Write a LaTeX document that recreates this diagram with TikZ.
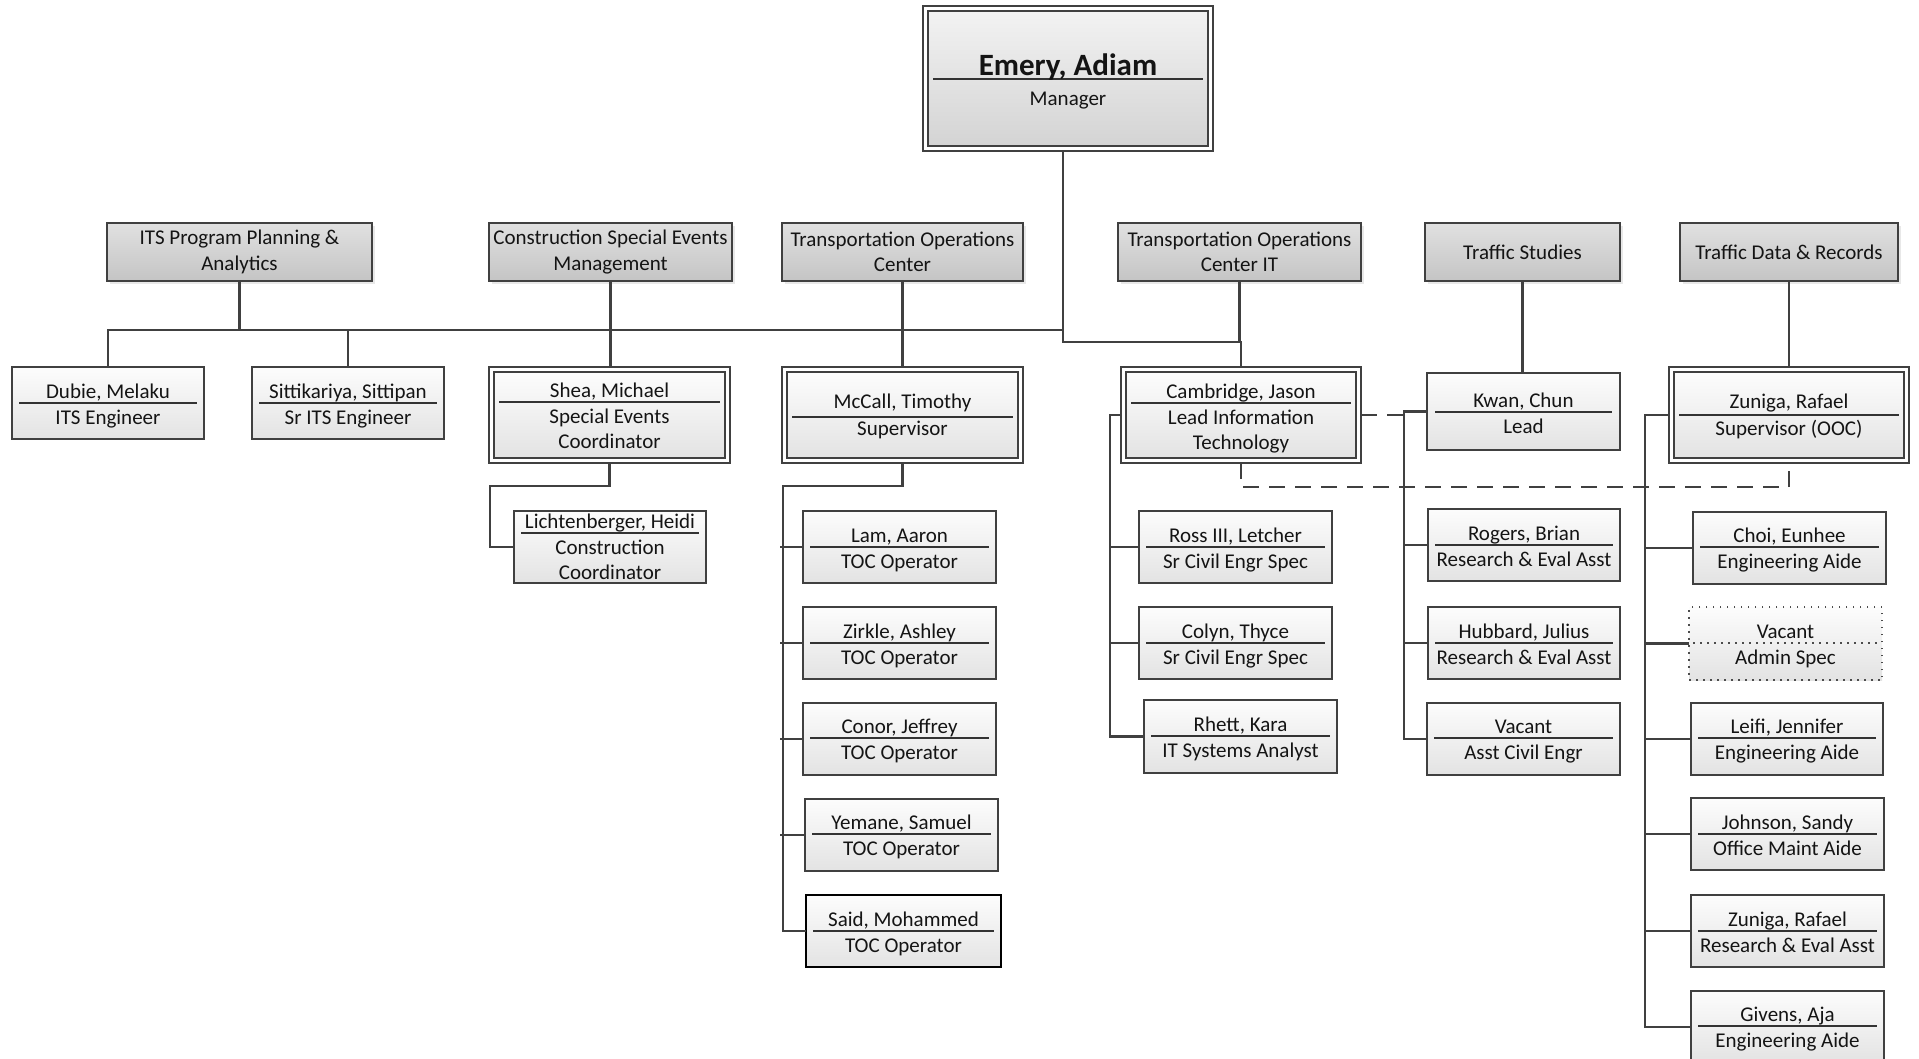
\documentclass[tikz,border=0pt]{standalone}
\usepackage{fontspec}
\setmainfont{Carlito}
\usetikzlibrary{calc,shadows}
\definecolor{ln}{HTML}{404040}
\tikzset{
  conn/.style={draw=ln, line width=2.4pt},
  dashl/.style={draw=ln, line width=2.4pt, dash pattern=on 16pt off 10pt},
  divl/.style={draw=black!80, line width=1.6pt},
  txt/.style={inner sep=0pt, anchor=base, text=black!92, font=\fontsize{21}{25.5}\selectfont},
  pbox/.style={draw=ln, line width=1.8pt, top color=black!1, bottom color=black!11, inner sep=0pt, outer sep=0pt},
  sbox/.style={pbox, draw=black, line width=2.3pt},
  vbox/.style={pbox, draw=black!70, line width=1.5pt, dash pattern=on 1.5pt off 5.5pt},
  hbox/.style={draw=ln, line width=1.8pt, top color=black!12, bottom color=black!23, inner sep=0pt, outer sep=0pt,
     align=center, text=black!92, font=\fontsize{21}{25.5}\selectfont,
     drop shadow={shadow xshift=3pt, shadow yshift=-3pt, opacity=0.18}},
  dboxo/.style={draw=ln, line width=1.6pt, fill=white, inner sep=0pt, outer sep=0pt},
  dboxi/.style={draw=ln, line width=1.6pt, top color=black!1, bottom color=black!11},
  eboxi/.style={draw=ln, line width=1.8pt, top color=black!5, bottom color=black!17},
}
\newcommand\nameoff{-5}
\newcommand\titoff{21}
\newcommand\bx[7]{\node[#1, minimum width=#5pt-#3pt, minimum height=#6pt-#4pt] (#2) at ({(#3+#5)/2},{(#4+#6)/2}) {#7};}
\newcommand\dinner[2]{\draw[#2] ($(#1.north west)+(5,5)$) rectangle ($(#1.south east)+(-5,-5)$);}
\newcommand\lab[6]{%
  \draw[divl] ($(#1.west |- 0,#3)+(#2,0)$) -- ($(#1.east |- 0,#3)+(-#2,0)$);
  \node[txt] (#1-n) at ($(#1.center |- 0,#3)+(0,\nameoff)$) {#4};
  \node[txt] (#1-a) at ($(#1.center |- 0,#3)+(0,\titoff)$) {#5};
  \if\relax\detokenize{#6}\relax\else
  \node[txt] (#1-b) at ($(#1.center |- 0,#3)+(0,\titoff+25.5)$) {#6};\fi}
\begin{document}
\begin{tikzpicture}[x=1pt,y=-1pt]
\useasboundingbox[fill=white] (0,0) rectangle (1919,1059);

% manager
\bx{dboxo}{emery}{923}{6}{1213}{151}{}
\dinner{emery}{eboxi}
\draw[divl] ($(emery.west |- 0,79)+(10,0)$) -- ($(emery.east |- 0,79)+(-10,0)$);
\node[txt, font=\bfseries\fontsize{31}{36}\selectfont] (emery-n) at (1068,76) {Emery, Adiam};
\node[txt] (emery-a) at (1068,106) {Manager};

% heads
\bx{hbox}{its}{107}{223}{372}{281}{ITS Program Planning \&\\Analytics}
\bx{hbox}{cse}{489}{223}{732}{281}{Construction Special Events\\Management}
\bx{hbox}{toc}{782}{223}{1023}{281}{Transportation Operations\\Center}
\bx{hbox}{tocit}{1118}{223}{1361}{281}{Transportation Operations\\Center IT}
\bx{hbox}{ts}{1425}{223}{1620}{281}{Traffic Studies}
\bx{hbox}{tdr}{1680}{223}{1898}{281}{Traffic Data \& Records}

% ITS
\bx{pbox}{dubie}{12}{367}{204}{439}{}
\lab{dubie}{7}{403}{Dubie, Melaku}{ITS Engineer}{}
\bx{pbox}{sitt}{252}{367}{444}{439}{}
\lab{sitt}{7}{403}{Sittikariya, Sittipan}{Sr ITS Engineer}{}

% CSE
\bx{dboxo}{shea}{489}{367}{730}{463}{}
\dinner{shea}{dboxi}
\lab{shea}{10}{402}{Shea, Michael}{Special Events}{Coordinator}
\bx{pbox}{licht}{514}{511}{706}{583}{}
\lab{licht}{7}{533}{Lichtenberger, Heidi}{Construction}{Coordinator}

% TOC
\bx{dboxo}{mccall}{782}{367}{1023}{463}{}
\dinner{mccall}{dboxi}
\renewcommand\nameoff{-9}\renewcommand\titoff{18}
\lab{mccall}{10}{417}{McCall, Timothy}{Supervisor}{}
\renewcommand\nameoff{-5}\renewcommand\titoff{21}
\bx{pbox}{lam}{803}{511}{996}{583}{}
\lab{lam}{7}{547}{Lam, Aaron}{TOC Operator}{}
\bx{pbox}{zirkle}{803}{607}{996}{679}{}
\lab{zirkle}{7}{643}{Zirkle, Ashley}{TOC Operator}{}
\bx{pbox}{conor}{803}{703}{996}{775}{}
\lab{conor}{7}{738}{Conor, Jeffrey}{TOC Operator}{}
\bx{pbox}{yemane}{805}{799}{998}{871}{}
\lab{yemane}{7}{834}{Yemane, Samuel}{TOC Operator}{}
\bx{sbox}{said}{806}{895}{1001}{967}{}
\lab{said}{7}{931}{Said, Mohammed}{TOC Operator}{}

% TOC IT
\bx{dboxo}{cam}{1121}{367}{1361}{463}{}
\dinner{cam}{dboxi}
\lab{cam}{10}{403}{Cambridge, Jason}{Lead Information}{Technology}
\bx{pbox}{ross}{1139}{511}{1332}{583}{}
\lab{ross}{7}{547}{Ross III, Letcher}{Sr Civil Engr Spec}{}
\bx{pbox}{colyn}{1139}{607}{1332}{679}{}
\lab{colyn}{7}{643}{Colyn, Thyce}{Sr Civil Engr Spec}{}
\bx{pbox}{rhett}{1144}{700}{1337}{773}{}
\lab{rhett}{7}{736}{Rhett, Kara}{IT Systems Analyst}{}

% Traffic Studies
\bx{pbox}{kwan}{1427}{373}{1620}{450}{}
\lab{kwan}{8}{412}{Kwan, Chun}{Lead}{}
\bx{pbox}{rogers}{1428}{509}{1620}{581}{}
\lab{rogers}{7}{545}{Rogers, Brian}{Research \& Eval Asst}{}
\bx{pbox}{hubbard}{1428}{607}{1620}{679}{}
\lab{hubbard}{7}{643}{Hubbard, Julius}{Research \& Eval Asst}{}
\bx{pbox}{vac1}{1427}{703}{1620}{775}{}
\lab{vac1}{7}{738}{Vacant}{Asst Civil Engr}{}

% Traffic Data
\bx{dboxo}{zuniga}{1669}{367}{1909}{463}{}
\dinner{zuniga}{dboxi}
\renewcommand\nameoff{-7}\renewcommand\titoff{20}
\lab{zuniga}{10}{415}{Zuniga, Rafael}{Supervisor (OOC)}{}
\renewcommand\nameoff{-5}\renewcommand\titoff{21}
\bx{pbox}{choi}{1693}{512}{1886}{584}{}
\lab{choi}{7}{547}{Choi, Eunhee}{Engineering Aide}{}
\bx{vbox}{vac2}{1689}{607}{1882}{680}{}
\draw[draw=black!70, line width=1.5pt, dash pattern=on 1.5pt off 5.5pt] ($(vac2.west |- 0,643)+(4,0)$) -- ($(vac2.east |- 0,643)+(-4,0)$);
\node[txt] (vac2-n) at (1785.5,638) {Vacant};
\node[txt] (vac2-a) at (1785.5,664) {Admin Spec};
\bx{pbox}{leifi}{1691}{703}{1883}{775}{}
\lab{leifi}{7}{738}{Leifi, Jennifer}{Engineering Aide}{}
\bx{pbox}{johnson}{1691}{798}{1884}{870}{}
\lab{johnson}{7}{834}{Johnson, Sandy}{Office Maint Aide}{}
\bx{pbox}{zunre}{1691}{895}{1884}{967}{}
\lab{zunre}{7}{931}{Zuniga, Rafael}{Research \& Eval Asst}{}
\bx{pbox}{givens}{1691}{991}{1884}{1063}{}
\lab{givens}{7}{1026}{Givens, Aja}{Engineering Aide}{}

% ---- connectors ----
\coordinate (busR) at (1063,330);
\coordinate (j1) at (1063,342);
\draw[conn] ([xshift=-5pt]emery.south) -- (j1) -| (cam.north);
\draw[conn] (tocit.south) -- (tocit.south |- j1);
\draw[conn] (dubie.north) |- (busR);
\draw[conn] (its.south) -- (its.south |- busR);
\draw[conn] (sitt.north) -- (sitt.north |- busR);
\draw[conn] (cse.south) -- (cse.south |- shea.north);
\draw[conn] (toc.south) -- (toc.south |- mccall.north);
\draw[conn] (ts.south) -- (ts.south |- kwan.north);
\draw[conn] (tdr.south) -- (tdr.south |- zuniga.north);

% CSE
\coordinate (sb) at (490,486);
\draw[conn] (shea.south) |- (sb) |- (licht.west);

% TOC
\coordinate (mb) at (783,486);
\draw[conn] (mccall.south) |- (mb) |- (said.west);
\foreach \n in {lam,zirkle,conor,yemane} \draw[conn] ([xshift=-3pt]\n.west -| mb) -- (\n.west);

% TOC IT
\coordinate (cb) at (1110,415);
\draw[conn] (cam.west) -- (cb) |- (rhett.west);
\foreach \n in {ross,colyn} \draw[conn] (\n.west -| cb) -- (\n.west);

% Traffic Studies
\coordinate (kb) at (1404,412);
\draw[conn] (kwan.west) -- (kwan.west -| kb) |- (vac1.west);
\foreach \n in {rogers,hubbard} \draw[conn] (\n.west -| kb) -- (\n.west);
\draw[dashl] (cam.east) -- (cam.east -| kb);

% Traffic Data
\coordinate (zb) at (1645,415);
\draw[conn] (zuniga.west) -- (zb) |- (givens.west);
\foreach \n in {choi,vac2,leifi,johnson,zunre} \draw[conn] (\n.west -| zb) -- (\n.west);

% dotted-line relation
\draw[dashl] (cam.south) -- ++(0,24) -| (zuniga.south);
\end{tikzpicture}
\end{document}
